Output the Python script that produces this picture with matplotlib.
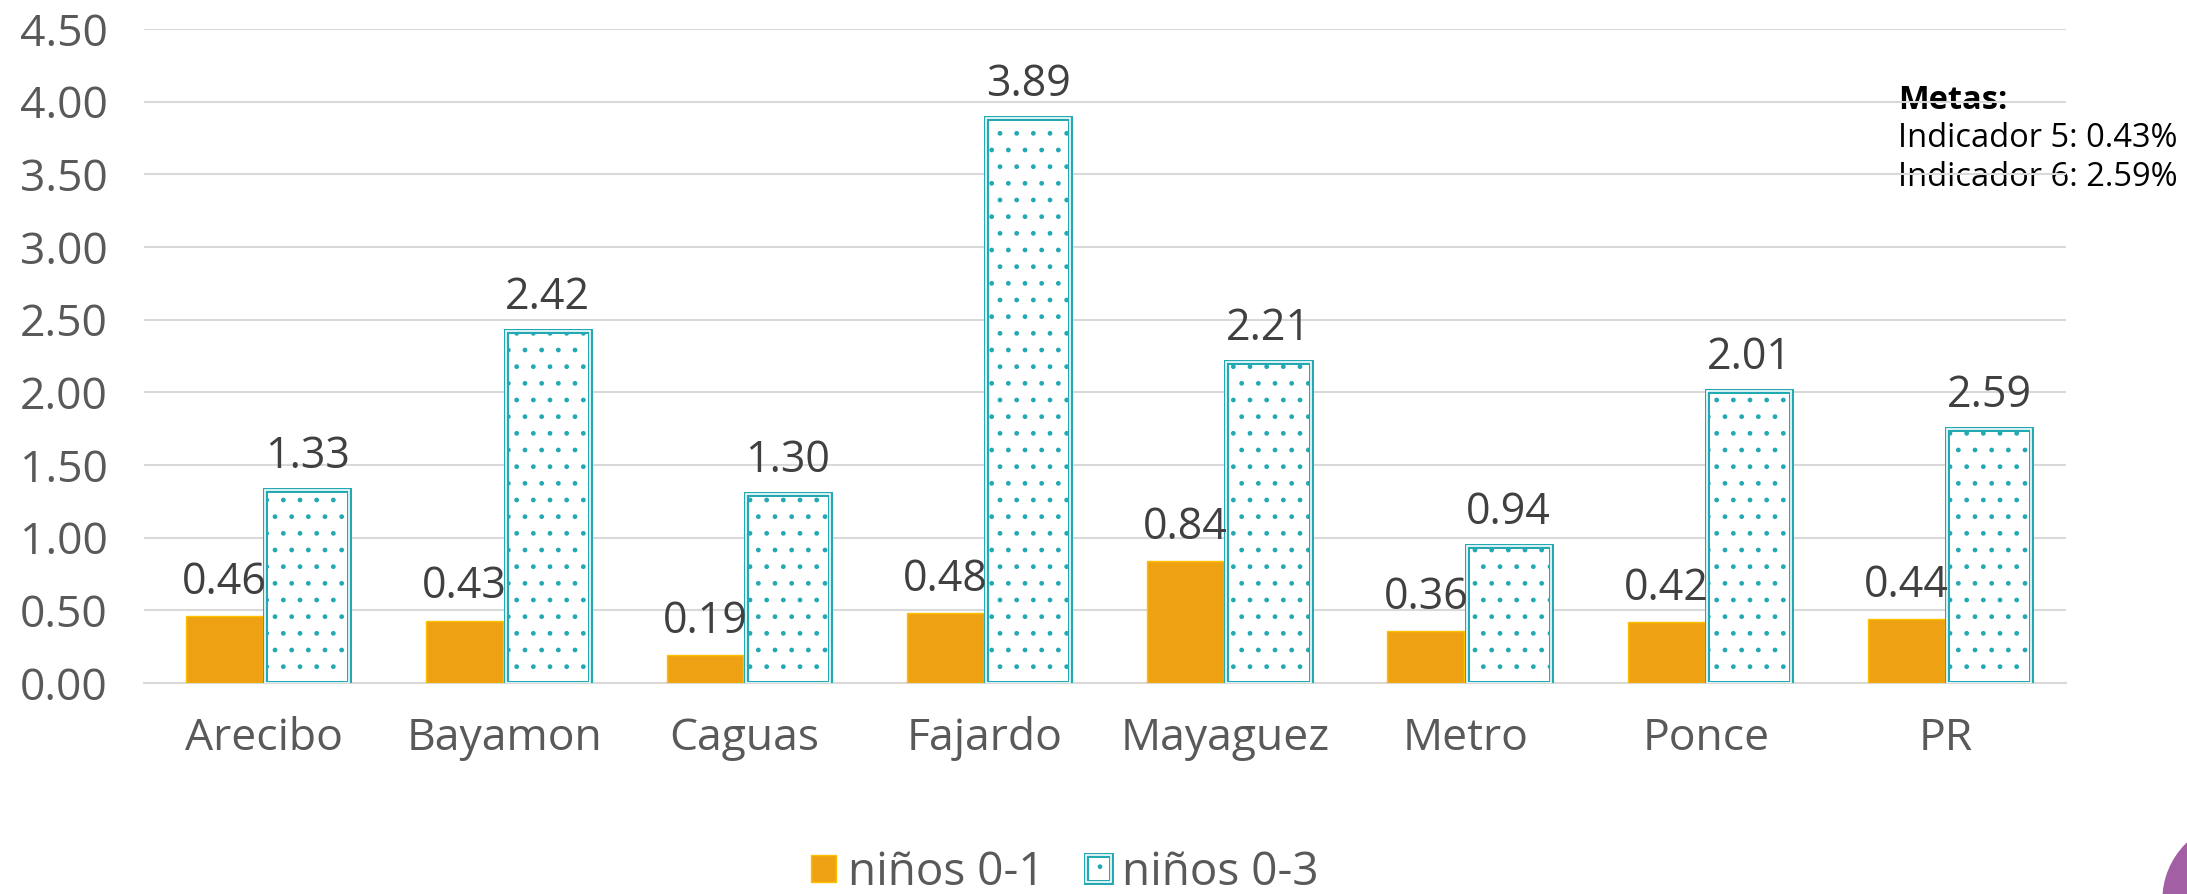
import numpy as np
import matplotlib.pyplot as plt
from matplotlib.patches import Ellipse
from matplotlib.ticker import FormatStrFormatter

plt.rcParams['font.family'] = ['Open Sans', 'DejaVu Sans']
plt.rcParams['hatch.linewidth'] = 1.0

regiones = ['Arecibo', 'Bayamon', 'Caguas', 'Fajardo', 'Mayaguez', 'Metro', 'Ponce', 'PR']
ninos_0_1 = [0.46, 0.43, 0.19, 0.48, 0.84, 0.36, 0.42, 0.44]
ninos_0_3 = [1.33, 2.42, 1.30, 3.89, 2.21, 0.94, 2.01, 1.75]
etiquetas_0_3 = ['1.33', '2.42', '1.30', '3.89', '2.21', '0.94', '2.01', '2.59']
metas = ['Indicador 5: 0.43%', 'Indicador 6: 2.59%']

naranja = '#EEA112'
turquesa = '#22A9B4'
gris = '#595959'

fig = plt.figure(figsize=(21.87, 8.94), dpi=100)
ax = fig.add_axes([0.0658, 0.236, 0.879, 0.7316])
ax.patch.set_visible(False)

x = np.arange(len(regiones))
b1 = ax.bar(x - 0.165, ninos_0_1, 0.32, color=naranja, edgecolor='#FFC000', linewidth=1, zorder=3)
b2 = ax.bar(x + 0.18, ninos_0_3, 0.35, facecolor='white', edgecolor=turquesa,
            hatch='.', linewidth=3.6, zorder=3)
b3 = ax.bar(x + 0.18, ninos_0_3, 0.35, facecolor='none', edgecolor='white',
            linewidth=1.2, zorder=4)

for xi, v in zip(x, ninos_0_1):
    ax.annotate(f'{v:.2f}', (xi - 0.165, v), xytext=(0, 24), textcoords='offset points',
                ha='center', va='center', fontsize=31, color='#404040', zorder=5)
for xi, v, t in zip(x, ninos_0_3, etiquetas_0_3):
    ax.annotate(t, (xi + 0.18, v), xytext=(0, 24), textcoords='offset points',
                ha='center', va='center', fontsize=31, color='#404040', zorder=5)

ax.set_xlim(-0.5, len(regiones) - 0.5)
ax.set_ylim(0, 4.5)
ax.set_yticks(np.arange(0, 4.51, 0.5))
ax.yaxis.set_major_formatter(FormatStrFormatter('%.2f'))
ax.set_xticks(x)
ax.set_xticklabels(regiones)
ax.tick_params(axis='y', length=0, pad=26, labelsize=32, labelcolor=gris)
ax.tick_params(axis='x', length=0, pad=24, labelsize=32, labelcolor=gris)
ax.grid(axis='y', color='#D9D9D9', linewidth=1.5, zorder=0)
ax.set_axisbelow(True)
for s in ['top', 'right', 'left']:
    ax.spines[s].set_visible(False)
ax.spines['bottom'].set_color('#D9D9D9')
ax.spines['bottom'].set_linewidth(1.5)

# cuadro de metas
fig.text(0.868, 0.888, 'Metas:', fontsize=23.5, fontweight='bold', color='black',
         va='center', ha='left', zorder=-1)
for i, m in enumerate(metas):
    fig.text(0.868, 0.845 - i * 0.044, m, fontsize=23.5, color='black',
             va='center', ha='left', zorder=-1)

fig.legend([b1[0], (b2[0], b3[0])], ['niños 0-1', 'niños 0-3'],
           loc='center', bbox_to_anchor=(0.487, 0.024), ncol=2, frameon=False,
           fontsize=33, labelcolor=gris, handlelength=0.55, handleheight=0.55,
           handletextpad=0.25, columnspacing=0.9, borderpad=0.1)

# logo recortado en la esquina
fig.patches.append(Ellipse((2242 / 2187, 1 - 900 / 894), 2 * 79 / 2187, 2 * 79 / 894,
                           transform=fig.transFigure, color='#A35FA3', zorder=-2))

fig.savefig('out.png', dpi=100)
